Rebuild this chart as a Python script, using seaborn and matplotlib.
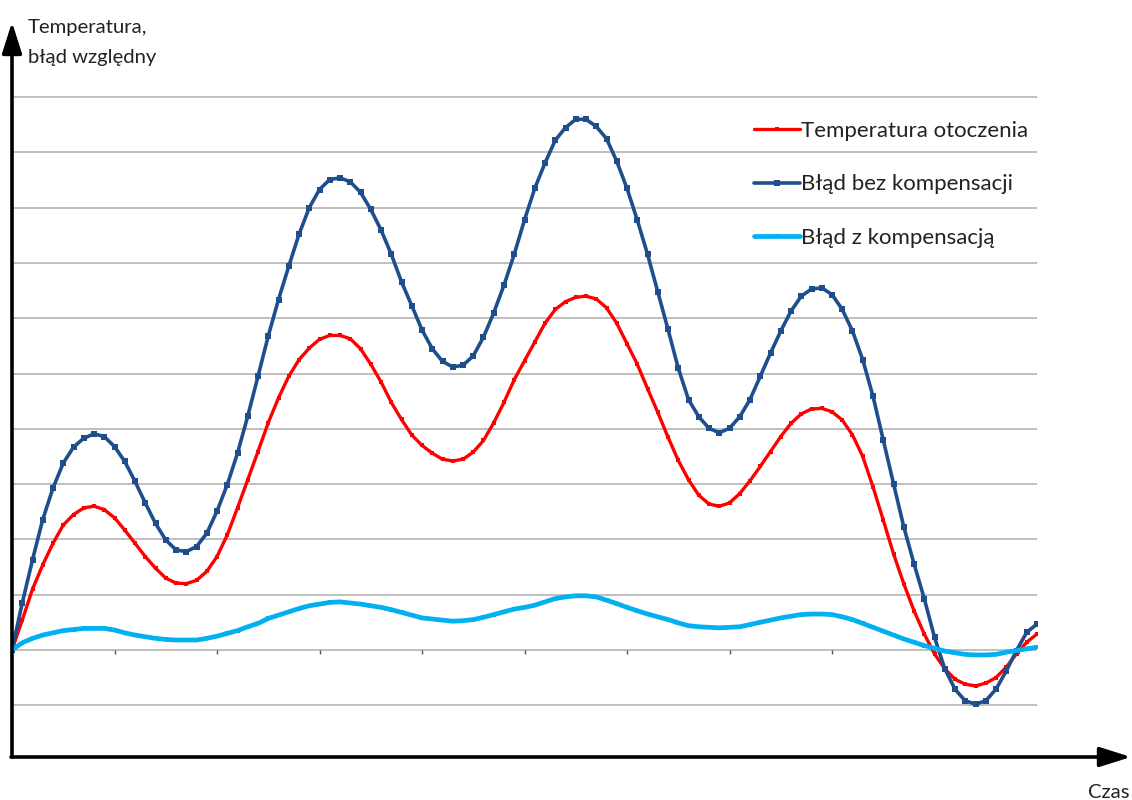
import numpy as np
import pandas as pd
import matplotlib
matplotlib.use("Agg")
import matplotlib.pyplot as plt
from matplotlib.patches import FancyArrowPatch
import seaborn as sns

# czas (jednostki umowne, krok 0.1) i trzy przebiegi
czas = [round(0.1 * i, 1) for i in range(101)]

temperatura = [0.00, 0.54, 1.10, 1.54, 1.93, 2.26, 2.45, 2.57, 2.60, 2.54,
               2.39, 2.17, 1.93, 1.69, 1.48, 1.30, 1.21, 1.20, 1.26, 1.42,
               1.69, 2.08, 2.57, 3.08, 3.59, 4.11, 4.56, 4.95, 5.25, 5.46,
               5.62, 5.69, 5.69, 5.63, 5.45, 5.17, 4.85, 4.48, 4.17, 3.89,
               3.70, 3.56, 3.45, 3.42, 3.45, 3.58, 3.79, 4.11, 4.48, 4.89,
               5.23, 5.57, 5.91, 6.16, 6.30, 6.38, 6.40, 6.35, 6.19, 5.91,
               5.54, 5.17, 4.73, 4.30, 3.85, 3.43, 3.08, 2.80, 2.64, 2.60,
               2.66, 2.83, 3.06, 3.32, 3.59, 3.86, 4.10, 4.27, 4.36, 4.37,
               4.31, 4.16, 3.89, 3.50, 2.95, 2.35, 1.74, 1.20, 0.71, 0.29,
               -0.07, -0.34, -0.53, -0.62, -0.65, -0.60, -0.50, -0.31, -0.07, 0.14,
               0.29]

blad_bez = [0.00, 0.85, 1.63, 2.36, 2.93, 3.38, 3.67, 3.83, 3.91, 3.86,
            3.68, 3.41, 3.05, 2.66, 2.29, 1.99, 1.81, 1.78, 1.87, 2.11,
            2.51, 2.99, 3.56, 4.23, 4.95, 5.68, 6.34, 6.94, 7.52, 8.00,
            8.33, 8.51, 8.54, 8.47, 8.28, 7.97, 7.60, 7.16, 6.66, 6.23,
            5.79, 5.45, 5.22, 5.12, 5.15, 5.32, 5.66, 6.10, 6.60, 7.16,
            7.78, 8.35, 8.81, 9.22, 9.45, 9.60, 9.60, 9.47, 9.25, 8.84,
            8.35, 7.78, 7.16, 6.48, 5.80, 5.10, 4.53, 4.22, 4.01, 3.93,
            4.01, 4.22, 4.53, 4.95, 5.37, 5.77, 6.13, 6.40, 6.53, 6.55,
            6.43, 6.16, 5.77, 5.25, 4.59, 3.80, 3.01, 2.23, 1.56, 0.93,
            0.23, -0.34, -0.71, -0.92, -0.98, -0.92, -0.71, -0.38, -0.01, 0.32,
            0.47]

blad_z = [0.00, 0.13, 0.21, 0.27, 0.31, 0.35, 0.37, 0.39, 0.39, 0.39,
          0.36, 0.31, 0.27, 0.24, 0.21, 0.19, 0.18, 0.18, 0.18, 0.21,
          0.25, 0.30, 0.35, 0.42, 0.48, 0.57, 0.63, 0.69, 0.75, 0.80,
          0.83, 0.86, 0.87, 0.85, 0.83, 0.80, 0.77, 0.73, 0.68, 0.63,
          0.58, 0.56, 0.54, 0.52, 0.53, 0.55, 0.59, 0.64, 0.69, 0.74,
          0.77, 0.81, 0.87, 0.93, 0.96, 0.98, 0.98, 0.96, 0.90, 0.84,
          0.77, 0.71, 0.65, 0.60, 0.55, 0.49, 0.44, 0.42, 0.41, 0.40,
          0.41, 0.42, 0.46, 0.50, 0.54, 0.58, 0.61, 0.64, 0.65, 0.65,
          0.64, 0.60, 0.55, 0.48, 0.41, 0.34, 0.27, 0.20, 0.14, 0.08,
          0.03, -0.02, -0.05, -0.08, -0.09, -0.09, -0.08, -0.04, -0.01, 0.02,
          0.05]

nazwy = ["Temperatura otoczenia", "Błąd bez kompensacji", "Błąd z kompensacją"]
kolory = ['#ff0000', '#1f4e8c', '#00b0f0']

df = pd.DataFrame({"czas": czas, nazwy[0]: temperatura,
                   nazwy[1]: blad_bez, nazwy[2]: blad_z})

sns.set_style("white")
plt.rcParams['font.family'] = ['Lato', 'DejaVu Sans']

W, H = 1132, 800
fig = plt.figure(figsize=(W / 100, H / 100), dpi=100)
# obszar danych: x 0..10 -> px 12..1037, y -1.9..10.13 -> px 755..90
ax = fig.add_axes([12 / W, (H - 755) / H, (1037 - 12) / W, (755 - 90) / H])

ax.set_yticks(range(-1, 11))
ax.grid(axis='y', color='#bfbfbf', lw=1.4)
ax.set_axisbelow(True)

ax.vlines(range(1, 10), -0.07, 0, color='#555555', lw=1)

sns.lineplot(data=df, x="czas", y=nazwy[0], ax=ax, color=kolory[0], lw=2.4,
             marker='s', markersize=2.5, markeredgewidth=0, label=nazwy[0])
sns.lineplot(data=df, x="czas", y=nazwy[1], ax=ax, color=kolory[1], lw=2.6,
             marker='s', markersize=3.8, markeredgewidth=0, label=nazwy[1])
sns.lineplot(data=df, x="czas", y=nazwy[2], ax=ax, color=kolory[2], lw=3.4,
             marker='s', markersize=3, markeredgewidth=0, label=nazwy[2])

ax.set_xlim(0, 10)
ax.set_ylim(-1.9, 10.13)
ax.set_xlabel("")
ax.set_ylabel("")
ax.set_xticks([])
ax.tick_params(axis='y', length=0, labelleft=False)
for s in ax.spines.values():
    s.set_visible(False)

leg = ax.legend(loc='upper left', bbox_to_anchor=(743 / W, 1 - 110 / H),
                bbox_transform=fig.transFigure, frameon=False, fontsize=16,
                handlelength=2.05, handletextpad=0.08, labelspacing=1.5,
                borderpad=0)
for t in leg.get_texts():
    t.set_color('#222222')

# osie ze strzałkami
arrow = dict(arrowstyle='-|>,head_length=0.95,head_width=0.3', color='black',
             lw=2.6, mutation_scale=20, shrinkA=0, shrinkB=0)
fig.add_artist(FancyArrowPatch((12 / W, 1 - 757 / H), (12 / W, 1 - 22 / H),
                               transform=fig.transFigure, **arrow))
fig.add_artist(FancyArrowPatch((11 / W, 1 - 757 / H), (1131 / W, 1 - 757 / H),
                               transform=fig.transFigure, **arrow))

fig.text(28 / W, 1 - 33 / H, "Temperatura,", fontsize=14.6, color='#222222', va='baseline')
fig.text(28 / W, 1 - 63 / H, "błąd względny", fontsize=14.6, color='#222222', va='baseline')
fig.text(1088 / W, 1 - 798 / H, "Czas", fontsize=14.6, color='#222222', va='baseline')

fig.savefig("out.png", dpi=100)
